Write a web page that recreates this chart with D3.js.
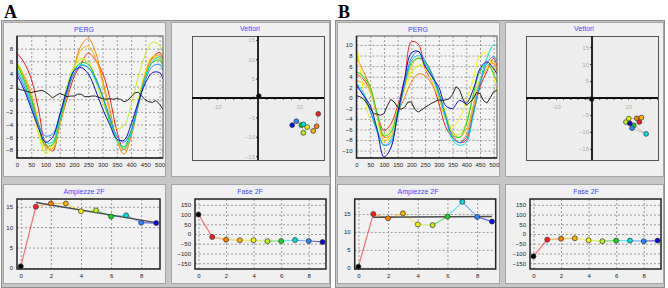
<!DOCTYPE html>
<html>
<head>
<meta charset="utf-8">
<script src="https://cdn.jsdelivr.net/npm/d3@7"></script>
<style>
body { margin: 0; background: #fff; }
svg { display: block; }
</style>
</head>
<body>
<script>
// series colours, index 0 = black trace, 1..9 = rainbow
var colors = ["#000000", "#ff1a1a", "#ff7f00", "#ffb300", "#f2f200", "#bff01e", "#19d619", "#00e0e0", "#2b86ff", "#0a0ae0"];

var tGrid = [0, 25, 50, 75, 100, 125, 150, 175, 200, 225, 250, 275, 300, 325, 350, 375, 400, 425, 450, 475, 500, 512];
var tFine = [0, 12.5, 25, 37.5, 50, 62.5, 75, 87.5, 100, 112.5, 125, 137.5, 150, 162.5, 175, 187.5, 200, 212.5, 225, 237.5,
  250, 262.5, 275, 287.5, 300, 312.5, 325, 337.5, 350, 362.5, 375, 387.5, 400, 412.5, 425, 437.5, 450, 462.5, 475, 487.5, 500, 512];

// PERG traces, panel A
var blackA = [1.7, 1.5, 1.4, 1.2, 1.05, 1.2, 1.3, 1.4, 1.15, 0.7, 0.2, 0.6, 0.9, 0.7, 0.4, 0.5, 0.5, 0.8, 0.8, 0.4, 0.4,
  0.5, 0.5, 0.3, 0.1, 0.0, 0.1, 0.0, 0.1, 0.0, -0.4, -0.2, 0.4, 1.0, 1.1, 0.5, -0.1, -0.4, -0.5, -0.2, -0.8, -1.6];
var redA    = [7.3, 5.8, 3.2, -1.5, -7.0, -8.2, -4.0, 0.0, 3.5, 5.6, 7.3, 6.2, 4.2, 0.3, -5.0, -8.0, -5.5, -0.5, 4.0, 6.6, 7.4, 6.4];
var orangeA = [5.5, 3.5, 0.5, -4.0, -7.6, -7.8, -4.0, 0.5, 5.0, 8.5, 9.6, 7.5, 3.0, -1.5, -6.5, -8.7, -6.0, -1.0, 3.5, 6.5, 7.0, 6.2];
var goldA   = [5.8, 3.8, 1.0, -3.5, -7.5, -7.8, -4.0, 0.5, 4.8, 7.8, 8.4, 6.5, 2.5, -2.0, -6.5, -8.0, -5.5, -0.5, 4.0, 6.3, 6.5, 5.5];
var yellowA = [5.3, 2.8, -1.0, -5.5, -8.6, -7.5, -3.0, 1.5, 5.0, 6.3, 5.8, 3.5, 0.0, -3.5, -6.5, -7.8, -5.0, 0.0, 4.5, 6.8, 6.5, 5.5];
var limeA   = [5.8, 3.0, -0.5, -5.0, -8.2, -7.0, -2.5, 2.0, 5.2, 6.5, 5.8, 3.0, -0.5, -3.0, -4.6, -4.2, -1.0, 3.5, 7.0, 9.0, 8.5, 7.0];
var greenA  = [5.6, 3.0, 0.0, -4.0, -7.3, -7.2, -3.5, 1.0, 4.5, 5.8, 5.5, 3.5, 0.5, -3.5, -6.5, -7.5, -5.0, -0.5, 3.5, 5.8, 6.2, 5.0];
var cyanA   = [4.8, 2.5, -0.5, -4.0, -6.8, -6.8, -3.0, 1.0, 4.5, 5.5, 5.0, 3.0, 0.5, -3.0, -6.3, -7.8, -5.5, -1.0, 3.5, 6.0, 6.7, 5.8];
var skyA    = [4.4, 2.0, -1.0, -4.0, -5.8, -5.5, -2.5, 1.0, 4.0, 5.3, 5.0, 3.3, 0.5, -2.8, -5.8, -6.8, -5.0, -1.0, 3.0, 5.2, 5.5, 4.5];
var blueA   = [3.8, 1.5, -1.5, -4.5, -6.8, -6.0, -2.5, 1.5, 4.5, 5.0, 4.0, 1.5, -1.5, -4.0, -6.3, -6.5, -4.0, -0.5, 2.5, 4.2, 4.2, 3.2];

// PERG traces, panel B
var blackB = [0.4, 0.2, -0.2, -1.0, -2.0, -3.0, -3.1, -3.3, -3.0, -1.5, -0.3, -0.8, -1.8, -2.2, -1.8, -0.8, -0.8, -2.2, -2.7, -2.3, -1.8,
  -1.4, -1.0, -0.7, -0.4, -0.5, -0.4, -0.2, 0.6, 2.1, 1.6, -0.2, -1.4, -0.9, -0.2, 1.0, 0.8, -0.5, -1.0, 0.0, 1.2, 1.4];
var redB    = [4.5, 3.5, 1.5, -3.0, -6.2, -5.0, -1.5, 3.5, 10.6, 10.2, 5.5, 3.0, -1.0, -5.5, -7.5, -8.5, -8.0, -3.0, 2.0, 5.0, 7.5, 6.0];
var orangeB = [7.7, 5.0, 2.0, -3.0, -7.5, -7.0, -3.0, 0.0, 3.0, 4.5, 4.2, 2.5, 0.0, -3.5, -7.0, -8.5, -7.0, -2.0, 3.0, 5.5, 6.5, 5.0];
var goldB   = [3.2, 2.8, 1.0, -3.5, -8.0, -7.5, -3.0, 2.0, 6.0, 7.5, 6.5, 4.0, 1.0, -3.0, -6.5, -7.5, -6.0, -1.5, 3.5, 6.0, 6.8, 5.5];
var yellowB = [10.5, 1.5, -4.0, -5.0, -8.5, -7.0, -3.0, 1.5, 4.5, 6.2, 5.5, 3.0, 0.0, -4.0, -5.5, -4.0, -0.5, 3.5, 8.0, 8.5, 4.0, 1.0];
var limeB   = [5.0, 4.0, 1.5, -3.0, -7.0, -6.0, -2.0, 2.5, 5.0, 6.0, 6.5, 4.5, 1.0, -3.0, -6.5, -7.0, -4.5, 0.0, 3.5, 5.5, 5.8, 4.5];
var greenB  = [5.0, 4.0, 2.0, -3.0, -7.2, -6.5, -2.5, 2.5, 6.5, 7.5, 6.8, 4.5, 1.0, -3.5, -7.0, -7.5, -5.0, 0.5, 5.0, 6.5, 4.5, 3.0];
var cyanB   = [2.8, 1.0, -2.5, -6.5, -9.0, -8.0, -3.5, 2.5, 7.0, 8.0, 6.5, 4.0, 0.5, -4.0, -8.0, -9.0, -8.5, -3.5, 3.0, 7.5, 10.0, 9.8];
var skyB    = [2.2, 0.5, -2.5, -6.0, -9.0, -8.5, -3.5, 2.5, 7.5, 8.8, 7.0, 4.5, 1.0, -3.5, -7.5, -8.5, -7.5, -3.0, 2.5, 6.5, 7.8, 7.0];
var blueB   = [2.5, 0.5, -1.5, -6.0, -11.2, -9.5, -3.0, 3.5, 8.5, 8.8, 6.0, 4.0, 2.0, -1.5, -2.0, -0.5, -1.0, 1.5, 5.5, 6.8, 5.5, 4.5];

// 2F harmonic results
var harmonics = [0, 1, 2, 3, 4, 5, 6, 7, 8, 9];
var ampA   = [0.4, 15.0, 15.8, 15.8, 13.9, 14.1, 12.6, 12.9, 11.1, 11.0];
var phaseA = [100, -15, -29, -32, -32, -37, -36, -31, -36, -41];
var ampB   = [0.3, 15.0, 13.8, 15.2, 12.1, 11.9, 14.3, 18.4, 14.2, 12.9];
var phaseB = [-115, -29, -24, -22, -32, -37, -34, -34, -37, -34];
var vecAx = [0.2, 14.6, 14.2, 13.4, 11.9, 11.0, 10.5, 11.0, 9.3, 8.3];
var vecAy = [0.5, -4.1, -7.3, -8.5, -7.5, -9.0, -7.0, -6.8, -6.0, -7.0];
var vecBx = [-0.1, 13.1, 12.4, 13.7, 10.2, 9.4, 11.6, 15.0, 11.1, 10.5];
var vecBy = [-0.3, -7.1, -6.0, -5.8, -6.1, -7.1, -8.1, -10.6, -8.9, -7.5];

// tick labels
var pergXTicks = [0, 50, 100, 150, 200, 250, 300, 350, 400, 450, 500];
var pergYTicksA = [-8, -6, -4, -2, 0, 2, 4, 6, 8];
var pergYTicksB = [-10, -8, -6, -4, -2, 0, 2, 4, 6, 8, 10];
var harmTicks = [0, 2, 4, 6, 8];
var ampTicks = [0, 5, 10, 15];
var phaseTicks = [-150, -100, -50, 0, 50, 100, 150];
var vecYTicks = [-15, -10, -5, 0, 5, 10, 15];
var vecXTicks = [-18, -16, -14, -12, -10, -8, -6, -4, -2, 2, 4, 6, 8, 10, 12, 14, 16, 18];

var font = "'Liberation Sans', Arial, sans-serif";
var svg = d3.select("body").append("svg").attr("width", 668).attr("height", 288);
var clipId = 0;

function styleAxis(sel, textColor) {
  sel.select(".domain").remove();
  sel.selectAll(".tick line").attr("stroke", "#9c9c9c").attr("stroke-dasharray", "2,2");
  sel.selectAll(".tick text").attr("font-size", 6).attr("font-family", font).attr("fill", textColor || "#222");
}

function title(x, y, txt) {
  svg.append("text").attr("x", x).attr("y", y).attr("text-anchor", "middle")
    .attr("font-family", font).attr("font-size", 7).attr("fill", "#4646ff").text(txt);
}

function clip(g, L, T, w, h) {
  var id = "clip" + (clipId++);
  g.append("clipPath").attr("id", id).append("rect").attr("x", L).attr("y", T).attr("width", w).attr("height", h);
  return "url(#" + id + ")";
}

function panelBase(ox, label) {
  svg.append("text").attr("x", ox + 4).attr("y", 18).text(label)
    .attr("font-family", "'Liberation Serif', 'Times New Roman', serif")
    .attr("font-weight", "bold").attr("font-size", 18);
  svg.append("rect").attr("x", ox + 1.5).attr("y", 20.5).attr("width", 329).attr("height", 267)
    .attr("fill", "#c6c6c6").attr("stroke", "#8e8e8e");
  [[3, 22, 162, 154], [171, 22, 158, 154], [3, 184, 162, 99], [171, 184, 158, 99]].forEach(function(f) {
    svg.append("rect").attr("x", ox + f[0] + 0.5).attr("y", f[1] + 0.5).attr("width", f[2]).attr("height", f[3])
      .attr("fill", "#f0f0f0").attr("stroke", "#a4a4a4");
  });
}

function pergPlot(ox, L, yDom, yTicks, traces, black) {
  var R = ox + 163, T = 36, B = 158;
  var x = d3.scaleLinear().domain([0, 512]).range([L, R]);
  var y = d3.scaleLinear().domain(yDom).range([B, T]);
  var g = svg.append("g");
  g.append("rect").attr("x", L).attr("y", T).attr("width", R - L).attr("height", B - T).attr("fill", "#f4f4f4");

  var ax = g.append("g").attr("transform", "translate(0," + B + ")")
    .call(d3.axisBottom(x).tickValues(pergXTicks).tickSizeInner(-(B - T)).tickSizeOuter(0).tickPadding(5));
  var ay = g.append("g").attr("transform", "translate(" + L + ",0)")
    .call(d3.axisLeft(y).tickValues(yTicks).tickSizeInner(-(R - L)).tickSizeOuter(0).tickPadding(4));
  styleAxis(ax); styleAxis(ay);

  var cp = clip(g, L, T, R - L, B - T);
  var line = d3.line().x(d => x(d[0])).y(d => y(d[1])).curve(d3.curveCatmullRom);
  traces.forEach(function(s, i) {
    g.append("path").datum(tGrid.map((t, k) => [t, s[k]])).attr("d", line)
      .attr("fill", "none").attr("stroke", colors[i + 1]).attr("stroke-width", 1).attr("clip-path", cp);
  });
  var bline = d3.line().x(d => x(d[0])).y(d => y(d[1]));
  g.append("path").datum(tFine.map((t, k) => [t, black[k]])).attr("d", bline)
    .attr("fill", "none").attr("stroke", "#222").attr("stroke-width", 1).attr("clip-path", cp);

  g.append("rect").attr("x", L).attr("y", T).attr("width", R - L).attr("height", B - T)
    .attr("fill", "none").attr("stroke", "#555").attr("stroke-width", 1);
  g.append("path").attr("d", "M" + L + "," + T + "V" + B + "H" + R)
    .attr("fill", "none").attr("stroke", "#222").attr("stroke-width", 1.5);
}

function dotPlot(L, R, yDom, yTicks, vals, trend) {
  var T = 199, B = 269;
  var x = d3.scaleLinear().domain([-0.25, 9.25]).range([L, R]);
  var y = d3.scaleLinear().domain(yDom).range([B, T]);
  var g = svg.append("g");
  g.append("rect").attr("x", L).attr("y", T).attr("width", R - L).attr("height", B - T).attr("fill", "#f2f2f2");
  var ax = g.append("g").attr("transform", "translate(0," + B + ")")
    .call(d3.axisBottom(x).tickValues(harmTicks).tickSizeInner(-(B - T)).tickSizeOuter(0).tickPadding(5));
  var ay = g.append("g").attr("transform", "translate(" + L + ",0)")
    .call(d3.axisLeft(y).tickValues(yTicks).tickSizeInner(-(R - L)).tickSizeOuter(0).tickPadding(4));
  styleAxis(ax); styleAxis(ay);

  for (var i = 1; i < vals.length; i++) {
    g.append("line").attr("x1", x(harmonics[i - 1])).attr("y1", y(vals[i - 1]))
      .attr("x2", x(harmonics[i])).attr("y2", y(vals[i]))
      .attr("stroke", colors[i]).attr("stroke-opacity", 0.6).attr("stroke-width", 1.2);
  }
  if (trend) {
    // least-squares line over harmonics 1..9
    var hx = harmonics.slice(1), hy = vals.slice(1);
    var mx = d3.mean(hx), my = d3.mean(hy);
    var slope = d3.sum(hx, (v, k) => (v - mx) * (hy[k] - my)) / d3.sum(hx, v => (v - mx) * (v - mx));
    g.append("line").attr("x1", x(1)).attr("y1", y(my + slope * (1 - mx)))
      .attr("x2", x(9)).attr("y2", y(my + slope * (9 - mx)))
      .attr("stroke", "#4a4a4a").attr("stroke-width", 1.4);
  }
  g.selectAll("circle.pt").data(vals).enter().append("circle")
    .attr("cx", (d, k) => x(harmonics[k])).attr("cy", d => y(d)).attr("r", 2.5)
    .attr("fill", (d, k) => colors[k]).attr("stroke", "#333").attr("stroke-width", 0.7);

  g.append("rect").attr("x", L).attr("y", T).attr("width", R - L).attr("height", B - T)
    .attr("fill", "none").attr("stroke", "#222").attr("stroke-width", 1.5);
}

function vectorPlot(ox, lim, vx, vy) {
  var L = ox + 192, R = ox + 324, T = 36, B = 160;
  var x = d3.scaleLinear().domain([-lim, lim]).range([L, R]);
  var y = d3.scaleLinear().domain([-lim, lim]).range([B, T]);
  var g = svg.append("g");
  g.append("rect").attr("x", L + 0.5).attr("y", T + 0.5).attr("width", R - L).attr("height", B - T)
    .attr("fill", "#ededed").attr("stroke", "#555");

  var ay = g.append("g").attr("transform", "translate(" + x(0) + ",0)")
    .call(d3.axisLeft(y).tickValues(vecYTicks).tickSize(2).tickPadding(1));
  var ax = g.append("g").attr("transform", "translate(0," + y(0) + ")")
    .call(d3.axisBottom(x).tickValues(vecXTicks.filter(d => Math.abs(d) < lim)).tickSize(2).tickPadding(5)
      .tickFormat(d => Math.abs(d) === 10 ? d : ""));
  [ax, ay].forEach(function(a) {
    a.select(".domain").remove();
    a.selectAll(".tick line").attr("stroke", "#444");
    a.selectAll(".tick text").attr("font-size", 6).attr("font-family", font).attr("fill", "#b0b0b0");
  });
  g.append("line").attr("x1", L).attr("x2", R).attr("y1", y(0)).attr("y2", y(0)).attr("stroke", "#111").attr("stroke-width", 1.8);
  g.append("line").attr("x1", x(0)).attr("x2", x(0)).attr("y1", T).attr("y2", B).attr("stroke", "#111").attr("stroke-width", 1.8);

  var path = d3.line().x(d => x(d[0])).y(d => y(d[1]));
  g.append("path").datum(vx.slice(1).map((v, k) => [v, vy[k + 1]])).attr("d", path)
    .attr("fill", "none").attr("stroke", "#b8b8b8").attr("stroke-width", 0.8);
  g.selectAll("circle.pt").data(vx).enter().append("circle")
    .attr("cx", d => x(d)).attr("cy", (d, k) => y(vy[k])).attr("r", 2.4)
    .attr("fill", (d, k) => colors[k]).attr("stroke", "#333").attr("stroke-width", 0.7);
}

// panel A
panelBase(0, "A");
title(84, 32, "PERG");
pergPlot(0, 17, [-9.3, 10], pergYTicksA,
  [redA, orangeA, goldA, yellowA, limeA, greenA, cyanA, skyA, blueA], blackA);
title(250, 31, "Vettori");
vectorPlot(0, 16, vecAx, vecAy);
title(84, 194, "Ampiezze 2F");
dotPlot(17, 160, [-0.25, 16.9], ampTicks, ampA, true);
title(250, 194, "Fase 2F");
dotPlot(195, 326, [-180, 180], phaseTicks, phaseA, false);

// panel B
panelBase(334, "B");
title(418, 32, "PERG");
pergPlot(334, 356.5, [-11.4, 11.7], pergYTicksB,
  [redB, orangeB, goldB, yellowB, limeB, greenB, cyanB, skyB, blueB], blackB);
title(584, 31, "Vettori");
vectorPlot(334, 18.3, vecBx, vecBy);
title(418, 194, "Ampiezze 2F");
dotPlot(354.7, 495.7, [-0.35, 19.2], ampTicks, ampB, true);
title(586, 194, "Fase 2F");
dotPlot(530, 661, [-180, 180], phaseTicks, phaseB, false);
</script>
</body>
</html>
